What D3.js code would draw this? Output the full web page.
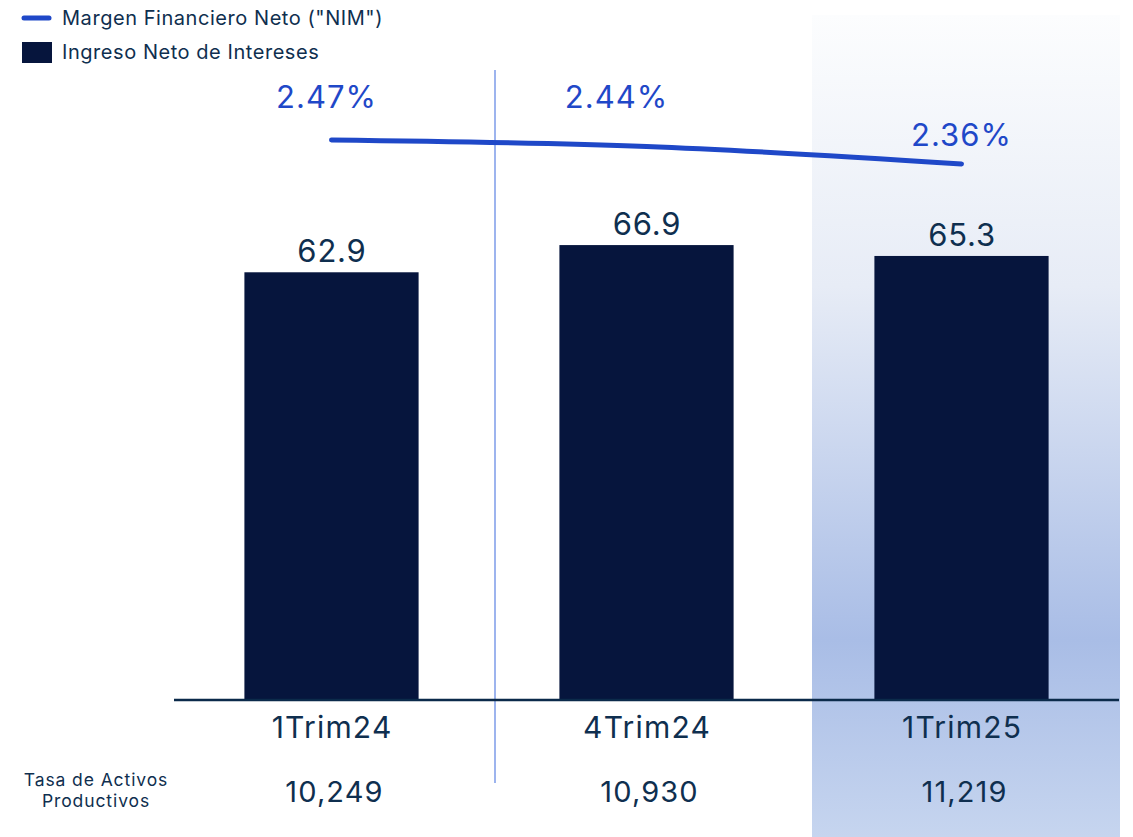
<!DOCTYPE html>
<html>
<head>
<meta charset="utf-8">
<script src="https://cdn.jsdelivr.net/npm/d3@7"></script>
<style>
  body { margin: 0; background: #fff; }
  text { font-family: Inter, "Noto Sans", sans-serif; }
</style>
</head>
<body>
<div class="canvas"></div>
<script>
const categories = ['1Trim24', '4Trim24', '1Trim25'];
const ingresoNeto = [62.9, 66.9, 65.3];
const nim = [2.47, 2.44, 2.36];
const nimLabels = ['2.47%', '2.44%', '2.36%'];
const activos = ['10,249', '10,930', '11,219'];

// hand placed label offsets for the NIM labels (as in the original slide)
const nimLabelOffset = [{dx: -5, dy: -43}, {dx: -30, dy: -50}, {dx: 0, dy: -29}];

const dims = {width: 1133, height: 837};
const textColor = '#0f2f4f';

const svg = d3.select('.canvas')
    .append('svg')
    .attr('width', dims.width)
    .attr('height', dims.height);

const x = d3.scaleBand()
    .domain(categories)
    .range([174, 1119])
    .paddingInner(0.447)
    .paddingOuter(0.2235);

const y = d3.scaleLinear()
    .domain([0, 100])
    .range([700, 20]);

const y2 = d3.scaleLinear()
    .domain([2.0, 2.6])
    .range([242.5, 111.6]);

// highlight gradient behind last quarter
const defs = svg.append('defs');
const grad = defs.append('linearGradient')
    .attr('id', 'hl')
    .attr('x1', 0).attr('y1', 0).attr('x2', 0).attr('y2', 1);
grad.append('stop').attr('offset', '0%').attr('stop-color', '#fcfdfe');
grad.append('stop').attr('offset', '33%').attr('stop-color', '#e7ecf6');
grad.append('stop').attr('offset', '76%').attr('stop-color', '#a9bde6');
grad.append('stop').attr('offset', '100%').attr('stop-color', '#c6d5ef');

const step = x.step();
const last = categories[categories.length - 1];
svg.append('rect')
    .attr('x', x(last) + x.bandwidth() / 2 - step / 2 + 8)
    .attr('y', 15)
    .attr('width', step - 7)
    .attr('height', dims.height - 15)
    .attr('fill', 'url(#hl)');

// divider line
svg.append('line')
    .attr('x1', 495).attr('x2', 495)
    .attr('y1', 70).attr('y2', 783)
    .attr('stroke', '#9db4ee')
    .attr('stroke-width', 2);

// bars
svg.selectAll('.bar')
    .data(ingresoNeto)
    .enter()
    .append('rect')
    .attr('class', 'bar')
    .attr('x', (d, i) => x(categories[i]))
    .attr('y', d => y(d))
    .attr('width', x.bandwidth())
    .attr('height', d => y(0) - y(d))
    .attr('fill', '#06153d');

svg.selectAll('.bar-label')
    .data(ingresoNeto)
    .enter()
    .append('text')
    .attr('class', 'bar-label')
    .attr('x', (d, i) => x(categories[i]) + x.bandwidth() / 2 + 0.5)
    .attr('y', d => y(d) - 10)
    .attr('text-anchor', 'middle')
    .attr('font-size', 31)
    .attr('letter-spacing', 0.8)
    .attr('fill', textColor)
    .text(d => d.toFixed(1));

// axis baseline
svg.append('line')
    .attr('x1', 174).attr('x2', 1119)
    .attr('y1', y(0)).attr('y2', y(0))
    .attr('stroke', '#0b2a4a')
    .attr('stroke-width', 2.5);

// category labels
svg.selectAll('.cat')
    .data(categories)
    .enter()
    .append('text')
    .attr('class', 'cat')
    .attr('x', d => x(d) + x.bandwidth() / 2 + 0.6)
    .attr('y', 738)
    .attr('text-anchor', 'middle')
    .attr('font-size', 30)
    .attr('letter-spacing', 1.2)
    .attr('fill', textColor)
    .text(d => d);

// activos row
svg.selectAll('.act')
    .data(activos)
    .enter()
    .append('text')
    .attr('class', 'act')
    .attr('x', (d, i) => x(categories[i]) + x.bandwidth() / 2 + 3)
    .attr('y', 802)
    .attr('text-anchor', 'middle')
    .attr('font-size', 29)
    .attr('letter-spacing', 1.1)
    .attr('fill', textColor)
    .text(d => d);

const rowLabel = svg.append('text')
    .attr('text-anchor', 'middle')
    .attr('font-size', 17.5)
    .attr('letter-spacing', 0.9)
    .attr('fill', textColor);
rowLabel.append('tspan').attr('x', 96).attr('y', 786).text('Tasa de Activos');
rowLabel.append('tspan').attr('x', 96).attr('y', 807).text('Productivos');

// NIM line
const line = d3.line()
    .x((d, i) => x(categories[i]) + x.bandwidth() / 2)
    .y(d => y2(d))
    .curve(d3.curveMonotoneX);

svg.append('path')
    .datum(nim)
    .attr('fill', 'none')
    .attr('stroke', '#1f48c8')
    .attr('stroke-width', 5)
    .attr('stroke-linecap', 'round')
    .attr('d', line);

svg.selectAll('.nim-label')
    .data(nim)
    .enter()
    .append('text')
    .attr('class', 'nim-label')
    .attr('x', (d, i) => x(categories[i]) + x.bandwidth() / 2 + nimLabelOffset[i].dx)
    .attr('y', (d, i) => y2(d) + nimLabelOffset[i].dy + 11)
    .attr('text-anchor', 'middle')
    .attr('font-size', 31)
    .attr('letter-spacing', 1)
    .attr('fill', '#1f48c8')
    .text((d, i) => nimLabels[i]);

// legend
const legend = svg.append('g');
legend.append('line')
    .attr('x1', 24).attr('x2', 49)
    .attr('y1', 18).attr('y2', 18)
    .attr('stroke', '#1f48c8')
    .attr('stroke-width', 5)
    .attr('stroke-linecap', 'round');
legend.append('text')
    .attr('x', 62).attr('y', 25)
    .attr('font-size', 20)
    .attr('letter-spacing', 0.55)
    .attr('fill', textColor)
    .text('Margen Financiero Neto ("NIM")');
legend.append('rect')
    .attr('x', 22).attr('y', 42)
    .attr('width', 30).attr('height', 21)
    .attr('fill', '#06153d');
legend.append('text')
    .attr('x', 62).attr('y', 59)
    .attr('font-size', 20)
    .attr('letter-spacing', 0.55)
    .attr('fill', textColor)
    .text('Ingreso Neto de Intereses');
</script>
</body>
</html>
